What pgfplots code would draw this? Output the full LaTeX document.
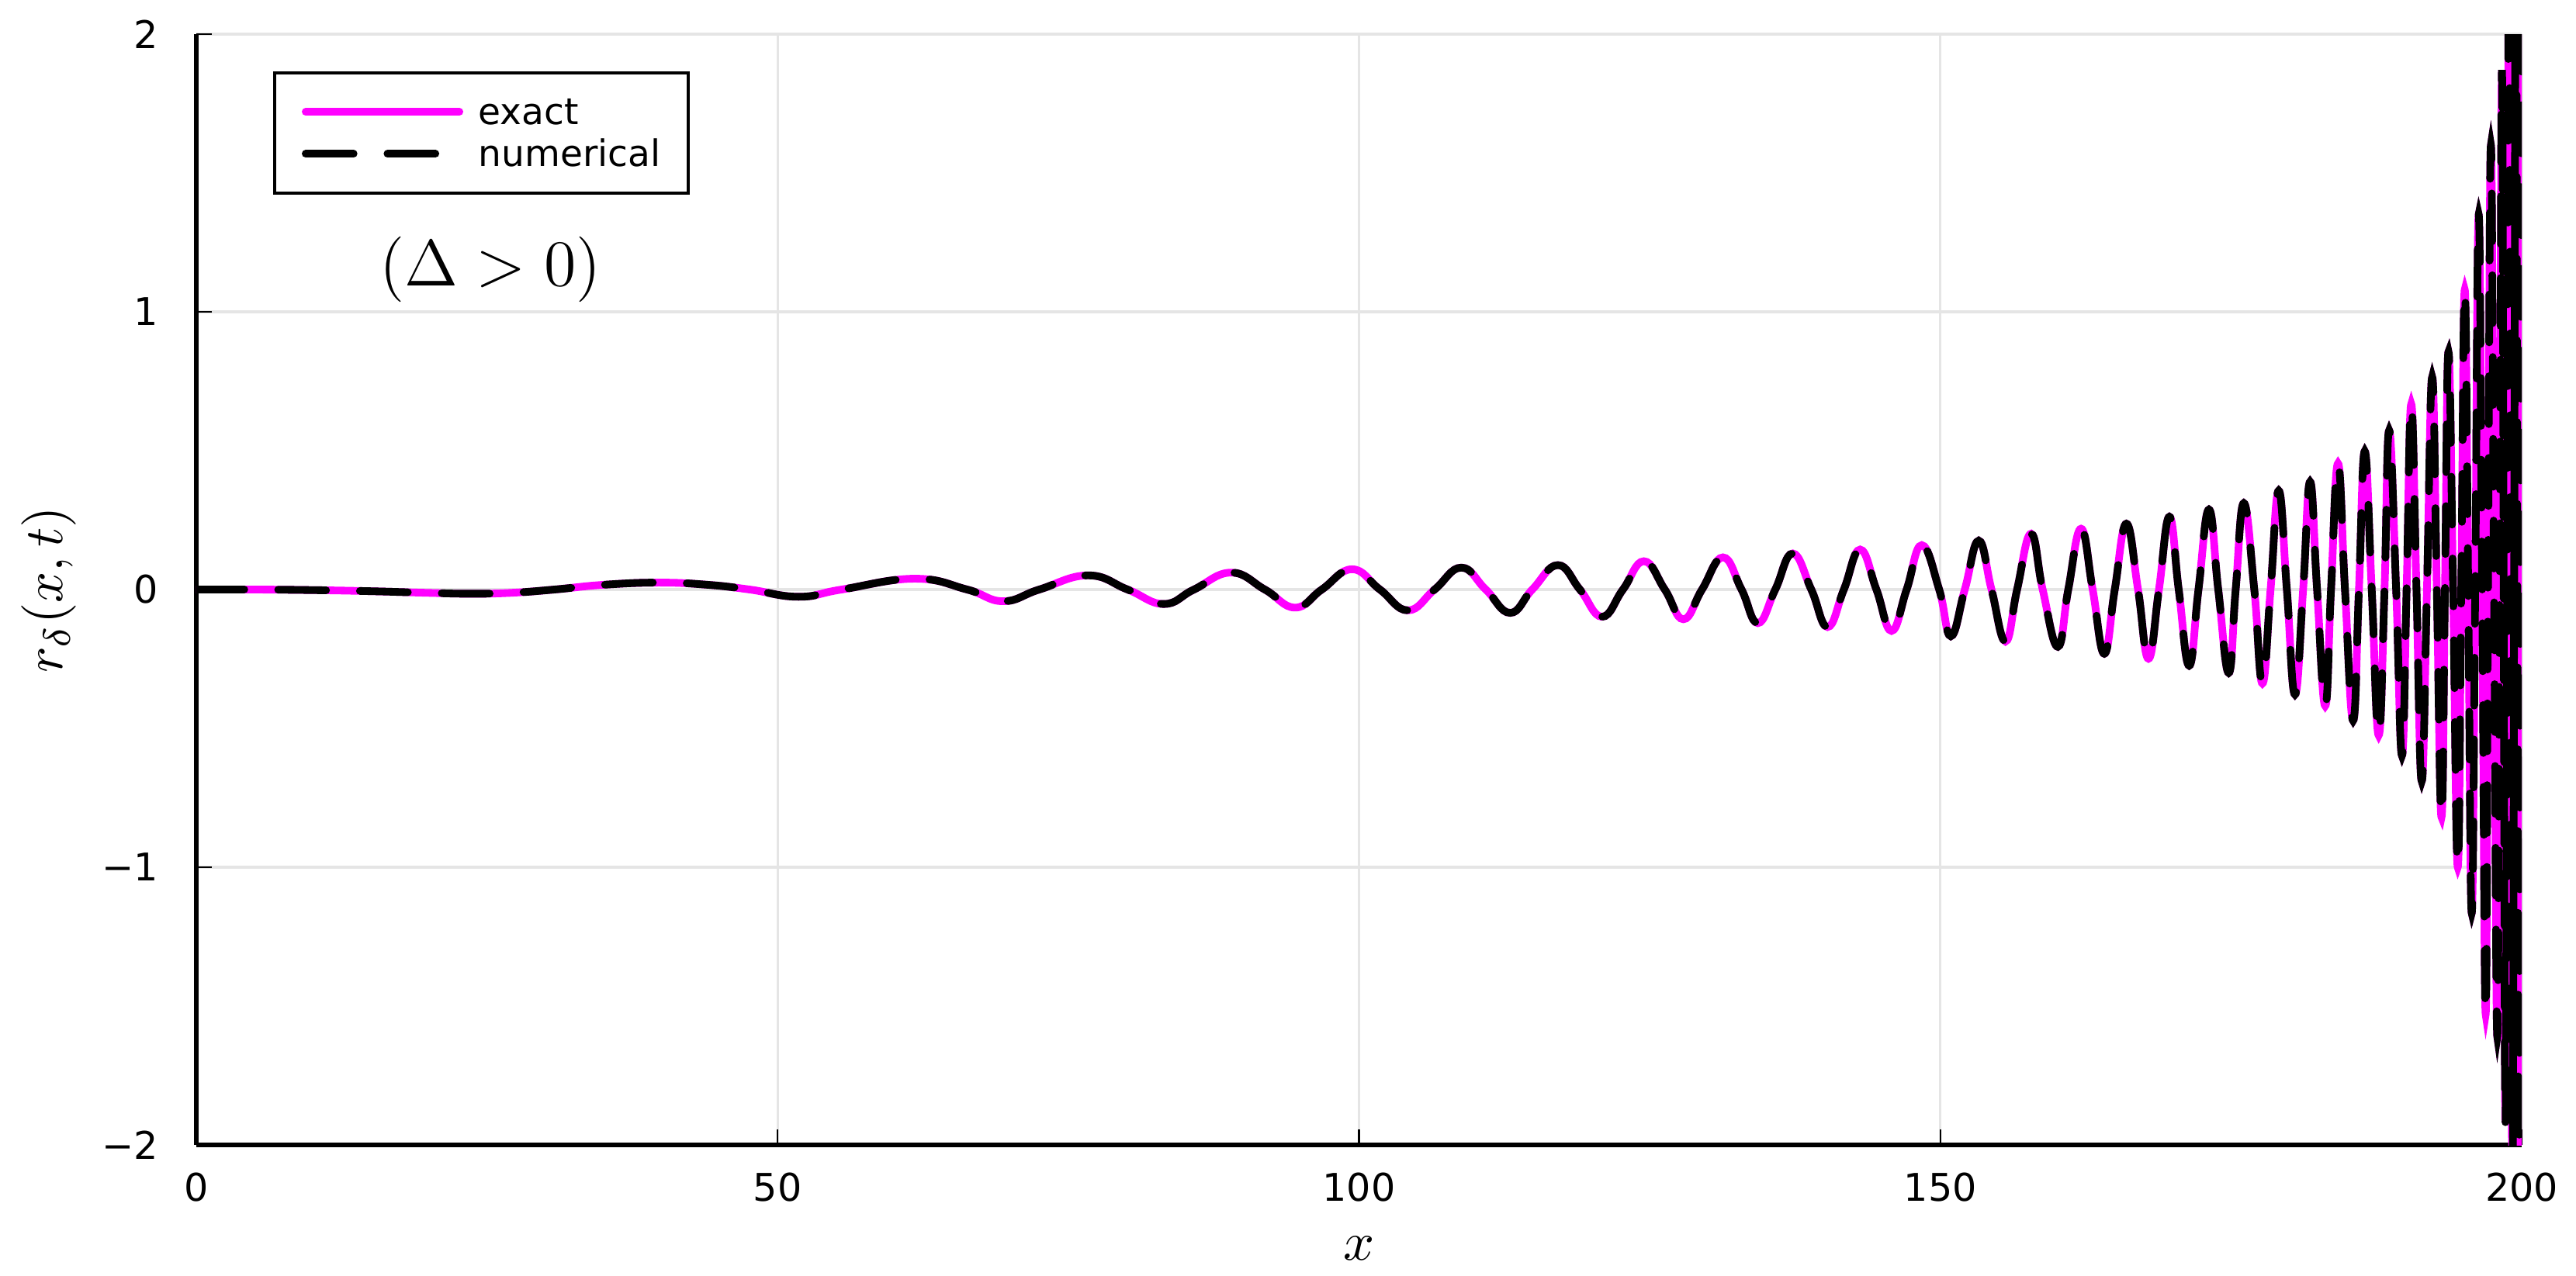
\documentclass[border=0pt]{standalone}
\usepackage{fontspec}
\setmainfont{DejaVu Sans}
\usepackage{pgfplots}
\usepackage{pgfplotstable}
\pgfplotsset{compat=1.18}
\definecolor{exactmag}{HTML}{FF00FF}

% r_delta(x,t): peaks, troughs and zero crossings
\pgfplotstableread{
x y
0 0
5 0
10 -0.002
15 -0.006
20 -0.012
23.5 -0.015
27 -0.012
30.8 0
35 0.017
39.8 0.025
44 0.017
47.6 0
51.8 -0.026
55.5 0
61.8 0.039
66.3 0
69.4 -0.042
72.5 0
76.7 0.051
80.1 0
83.2 -0.052
85.8 0
89.0 0.061
91.9 0
94.5 -0.065
96.8 0
99.4 0.073
101.8 0
104.2 -0.075
106.5 0
108.8 0.079
110.9 0
113.0 -0.084
114.9 0
117.1 0.088
119.0 0
120.9 -0.098
122.7 0
124.5 0.102
126.3 0
127.9 -0.107
129.5 0
131.3 0.116
132.9 0
134.3 -0.121
135.8 0
137.3 0.130
138.9 0
140.3 -0.135
141.7 0
143.1 0.144
144.5 0
145.8 -0.149
147.1 0
148.4 0.160
149.9 0
150.9 -0.168
152.1 0
153.3 0.176
154.4 0
155.6 -0.187
156.6 0
157.8 0.201
158.8 0
160.1 -0.206
161.0 0
162.1 0.219
163.1 0
164.1 -0.231
165.0 0
166.0 0.237
167.0 0
167.9 -0.249
168.8 0
169.7 0.262
170.5 0
171.4 -0.274
172.2 0
173.1 0.288
173.9 0
174.8 -0.300
175.4 0
176.1 0.311
177.0 0
177.7 -0.338
178.4 0
179.1 0.356
179.8 0
180.5 -0.378
181.2 0
181.8 0.388
182.4 0
183.1 -0.419
183.6 0
184.2 0.454
184.8 0
185.5 -0.472
186.0 0
186.5 0.498
187.1 0
187.7 -0.525
188.2 0
188.6 0.573
189.2 0
189.7 -0.598
190.1 0
190.5 0.668
190.95 0
191.4 -0.69
191.85 0
192.3 0.765
192.7 0
193.1 -0.82
193.4 0
193.7 0.856
194.1 0
194.5 -1.0
194.8 0
195.1 1.08
195.4 0
195.7 -1.165
196.0 0
196.3 1.35
196.6 0
196.9 -1.53
197.1 0
197.35 1.60
197.62 0
197.9 -1.61
198.1 0
198.3 1.87
198.45 0
198.6 -1.92
198.75 0
198.9 2.3
199.05 0
199.2 -2.2
199.35 0
199.5 2.5
199.63 0
199.75 -2.3
199.88 0
200 2.4
}\rdelta

\begin{document}
\begin{tikzpicture}
\useasboundingbox (-1.265cm,-0.84cm) rectangle (15.335cm,7.38cm);
\begin{axis}[
    width=14.985cm, height=7.16cm, scale only axis,
    xmin=0, xmax=200, ymin=-2, ymax=2,
    axis x line=bottom, axis y line=left,
    axis line style={line width=0.75pt, -},
    xtick={0,50,100,150,200},
    xticklabels={0,50,100,150,200},
    ytick={-2,-1,0,1,2},
    yticklabels={−2,−1,0,1,2},
    tick align=inside,
    major tick length=2.8pt,
    tick style={black, line width=0.3pt},
    grid=major,
    major grid style={black!10, line width=0.45pt},
    xticklabel style={font=\fontsize{7}{8}\selectfont, inner sep=0pt, anchor=north, yshift=-0.175cm},
    yticklabel style={font=\fontsize{7}{8}\selectfont, inner sep=0pt, anchor=east, xshift=-0.24cm},
    xlabel={$x$},
    ylabel={$r_\delta(x,t)$},
    xlabel style={font=\fontsize{10}{12}\selectfont, at={(axis description cs:0.5,-0.104)}, anchor=base},
    ylabel style={font=\fontsize{10}{12}\selectfont, at={(axis description cs:-0.0577,0.5)}, anchor=base},
    legend style={at={(0.033,0.9665)}, anchor=north west, draw=black, line width=0.55pt,
        font=\fontsize{6.7}{8}\selectfont, inner xsep=5pt, inner ysep=3.9pt,
        row sep=1.2pt, column sep=2.8pt,
        nodes={inner sep=0pt, text height=5.6pt, text depth=0.9pt},
        cells={anchor=west}},
    legend image code/.code={\draw[#1] (0pt,0pt) -- (28.2pt,0pt);},
]
\addplot[exactmag, line width=1.4pt, line cap=round, smooth, tension=0.75] table {\rdelta};
\addlegendentry{exact}
\addplot[black, line width=1.4pt, line cap=round, dash pattern=on 8.8pt off 6.2pt, smooth, tension=0.75] table {\rdelta};
\addlegendentry{numerical}
\node[anchor=base, font=\fontsize{11.7}{14}\selectfont] at (axis cs:25.3,1.095) {$(\Delta > 0)$};
\end{axis}
\end{tikzpicture}
\end{document}
